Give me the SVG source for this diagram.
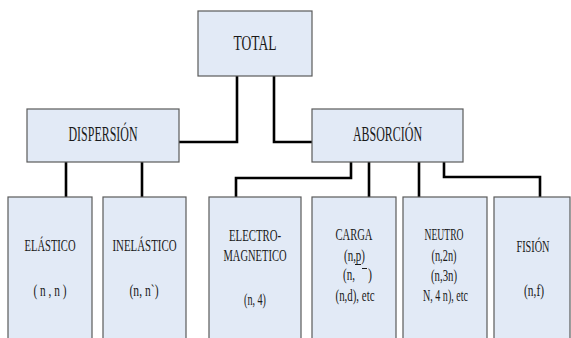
<svg xmlns="http://www.w3.org/2000/svg" width="571" height="338" viewBox="0 0 571 338">
<style>
.box{fill:#e2eaf6;stroke:#5a5a5a;stroke-width:1.2}
.conn{fill:none;stroke:#000;stroke-width:2.6}
.h{font-family:"Liberation Serif","Times New Roman",serif;font-size:20px;fill:#1a1a1a;text-anchor:middle}
.t{font-family:"Liberation Serif","Times New Roman",serif;font-size:16.5px;fill:#1a1a1a;text-anchor:middle}
.s{text-anchor:start}
.mk{stroke:#1a1a1a;stroke-width:1}
</style>
<rect width="571" height="338" fill="#ffffff"/>
<g id="connectors">
<path class="conn" d="M237,76 V142 H179"/>
<path class="conn" d="M274,76 V142 H312"/>
<path class="conn" d="M66,162 V198"/>
<path class="conn" d="M142,162 V198"/>
<path class="conn" d="M351,162 V178 H236 V198"/>
<path class="conn" d="M369,162 V198"/>
<path class="conn" d="M419,162 V198"/>
<path class="conn" d="M444,162 V177 H540 V198"/>
</g>
<g id="total">
<rect class="box" x="198" y="11" width="114" height="65"/>
<text class="h" x="255" y="50" textLength="43" lengthAdjust="spacingAndGlyphs">TOTAL</text>
</g>
<g id="dispersion">
<rect class="box" x="27" y="109" width="152" height="53"/>
<text class="h" x="103" y="141" textLength="69" lengthAdjust="spacingAndGlyphs">DISPERSIÓN</text>
</g>
<g id="absorcion">
<rect class="box" x="312" y="109" width="151" height="53"/>
<text class="h" x="387.5" y="141" textLength="69" lengthAdjust="spacingAndGlyphs">ABSORCIÓN</text>
</g>
<g id="elastico">
<rect class="box" x="8" y="197" width="84" height="150"/>
<text class="t" x="50" y="251" textLength="51" lengthAdjust="spacingAndGlyphs">ELÁSTICO</text>
<text class="t" x="50" y="296" textLength="33" lengthAdjust="spacingAndGlyphs">( n , n )</text>
</g>
<g id="inelastico">
<rect class="box" x="103" y="197" width="83" height="150"/>
<text class="t" x="144.5" y="251" textLength="64" lengthAdjust="spacingAndGlyphs">INELÁSTICO</text>
<text class="t" x="144" y="296" textLength="29" lengthAdjust="spacingAndGlyphs">(n, n`)</text>
</g>
<g id="electromagnetico">
<rect class="box" x="209" y="197" width="92" height="150"/>
<text class="t" x="255" y="241" textLength="52" lengthAdjust="spacingAndGlyphs">ELECTRO-</text>
<text class="t" x="255" y="261" textLength="63" lengthAdjust="spacingAndGlyphs">MAGNETICO</text>
<text class="t" x="255" y="305" textLength="22" lengthAdjust="spacingAndGlyphs">(n, 4)</text>
</g>
<g id="carga">
<rect class="box" x="312" y="197" width="84" height="150"/>
<text class="t" x="354" y="240" textLength="37" lengthAdjust="spacingAndGlyphs">CARGA</text>
<text class="t" x="354.5" y="261" textLength="21" lengthAdjust="spacingAndGlyphs">(n,p)</text>
<line class="mk" x1="355" y1="264.5" x2="361" y2="264.5"/>
<text class="t s" x="343" y="280" textLength="12" lengthAdjust="spacingAndGlyphs">(n,</text>
<text class="t s" x="368" y="280" textLength="4" lengthAdjust="spacingAndGlyphs">)</text>
<line class="mk" x1="362" y1="268.5" x2="367" y2="268.5"/>
<text class="t" x="355" y="301" textLength="39" lengthAdjust="spacingAndGlyphs">(n,d), etc</text>
</g>
<g id="neutro">
<rect class="box" x="403" y="197" width="84" height="150"/>
<text class="t" x="444" y="240" textLength="39" lengthAdjust="spacingAndGlyphs">NEUTRO</text>
<text class="t" x="444" y="261" textLength="25" lengthAdjust="spacingAndGlyphs">(n,2n)</text>
<text class="t" x="444" y="281" textLength="26" lengthAdjust="spacingAndGlyphs">(n,3n)</text>
<text class="t" x="445.5" y="301" textLength="45" lengthAdjust="spacingAndGlyphs">N, 4 n), etc</text>
</g>
<g id="fision">
<rect class="box" x="494" y="197" width="76" height="150"/>
<text class="t" x="533" y="252" textLength="33" lengthAdjust="spacingAndGlyphs">FISIÓN</text>
<text class="t" x="534" y="296" textLength="20" lengthAdjust="spacingAndGlyphs">(n,f)</text>
</g>
</svg>
